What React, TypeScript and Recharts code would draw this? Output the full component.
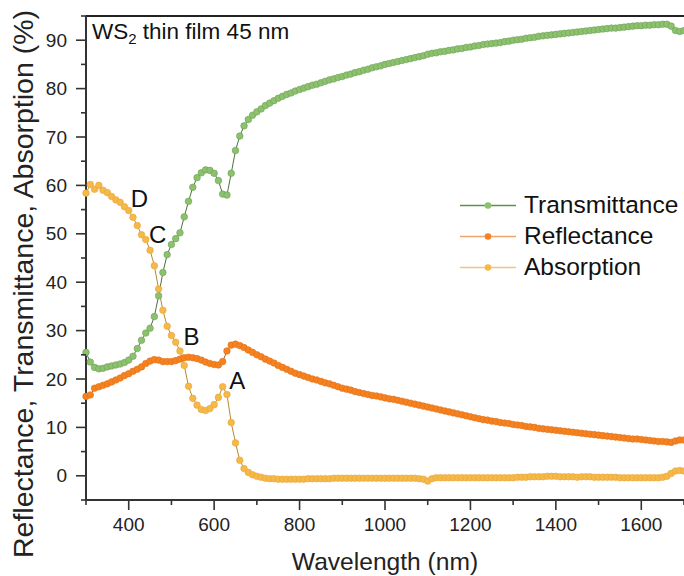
import { LineChart, Line, XAxis, YAxis, ReferenceLine, ReferenceDot, Legend } from "recharts"

const FONT = '"Liberation Sans", Arial, Helvetica, sans-serif'

// wavelength grid (nm)
const wavelengths = [
  300, 310, 320, 330, 340, 350, 360, 370, 380, 390,
  400, 410, 420, 430, 440, 450, 460, 470, 480, 490,
  500, 510, 520, 530, 540, 550, 560, 570, 580, 590,
  600, 610, 620, 630, 640, 650, 660, 670, 680, 690,
  700, 710, 720, 730, 740, 750, 760, 770, 780, 790,
  800, 810, 820, 830, 840, 850, 860, 870, 880, 890,
  900, 910, 920, 930, 940, 950, 960, 970, 980, 990,
  1000, 1010, 1020, 1030, 1040, 1050, 1060, 1070, 1080, 1090,
  1100, 1110, 1120, 1130, 1140, 1150, 1160, 1170, 1180, 1190,
  1200, 1210, 1220, 1230, 1240, 1250, 1260, 1270, 1280, 1290,
  1300, 1310, 1320, 1330, 1340, 1350, 1360, 1370, 1380, 1390,
  1400, 1410, 1420, 1430, 1440, 1450, 1460, 1470, 1480, 1490,
  1500, 1510, 1520, 1530, 1540, 1550, 1560, 1570, 1580, 1590,
  1600, 1610, 1620, 1630, 1640, 1650, 1660, 1670, 1680, 1690,
  1700,
]

const transmittance = [
  25.5, 23.5, 22.4, 22.1, 22.2, 22.5, 22.7, 22.9, 23.1, 23.4,
  23.9, 24.7, 26.3, 28.0, 29.5, 30.5, 32.9, 37.2, 42.0, 45.7,
  47.8, 49.0, 50.2, 53.5, 56.7, 59.6, 61.6, 62.6, 63.2, 63.1,
  62.5, 61.0, 58.2, 58.0, 62.5, 67.2, 70.2, 72.3, 73.6, 74.5,
  75.2, 75.8, 76.5, 77.0, 77.5, 78.0, 78.4, 78.8, 79.1, 79.5,
  79.8, 80.1, 80.4, 80.7, 80.9, 81.2, 81.5, 81.8, 82.0, 82.3,
  82.5, 82.8, 83.0, 83.3, 83.5, 83.8, 84.0, 84.3, 84.5, 84.7,
  85.0, 85.2, 85.4, 85.6, 85.8, 86.0, 86.2, 86.4, 86.6, 86.8,
  87.1, 87.3, 87.4, 87.6, 87.7, 87.9, 88.0, 88.2, 88.3, 88.5,
  88.6, 88.8, 88.9, 89.1, 89.2, 89.3, 89.4, 89.5, 89.7, 89.8,
  90.0, 90.1, 90.2, 90.4, 90.5, 90.6, 90.8, 90.9, 91.0, 91.1,
  91.2, 91.3, 91.4, 91.5, 91.6, 91.7, 91.8, 91.9, 92.0, 92.1,
  92.2, 92.3, 92.4, 92.5, 92.5, 92.6, 92.7, 92.8, 92.9, 93.0,
  93.0, 93.1, 93.1, 93.2, 93.2, 93.3, 93.3, 92.9, 92.0, 91.8,
  92.0,
]

const reflectance = [
  16.4, 16.7, 18.1, 18.4, 18.7, 19.0, 19.4, 19.8, 20.2, 20.7,
  21.1, 21.6, 22.0, 22.5, 23.2, 23.7, 24.0, 23.9, 23.6, 23.6,
  23.6, 23.8, 24.1, 24.4, 24.5, 24.4, 24.2, 23.9, 23.5, 23.2,
  23.0, 22.9, 23.6, 25.8, 27.0, 27.2, 26.9, 26.5, 26.0, 25.5,
  25.0, 24.6, 24.1, 23.7, 23.3, 22.8, 22.4, 22.0, 21.6, 21.2,
  20.9, 20.6, 20.3, 20.0, 19.8, 19.5, 19.2, 19.0, 18.7, 18.4,
  18.1, 17.9, 17.7, 17.4, 17.2, 17.0, 16.8, 16.6, 16.5, 16.3,
  16.1, 15.9, 15.8, 15.6, 15.4, 15.2, 15.0, 14.8, 14.6, 14.4,
  14.2, 14.0, 13.8, 13.6, 13.4, 13.2, 13.0, 12.8, 12.6, 12.4,
  12.2, 12.0, 11.8, 11.6, 11.5, 11.3, 11.2, 11.0, 10.9, 10.8,
  10.6, 10.5, 10.4, 10.2, 10.1, 10.0, 9.8, 9.7, 9.6, 9.5,
  9.4, 9.3, 9.2, 9.1, 9.0, 8.9, 8.8, 8.7, 8.6, 8.5,
  8.4, 8.3, 8.2, 8.1, 8.0, 7.9, 7.8, 7.7, 7.6, 7.6,
  7.5, 7.4, 7.3, 7.2, 7.1, 7.1, 7.0, 6.9, 7.2, 7.4,
  7.4,
]

const absorption = [
  58.4, 60.2, 59.2, 60.0, 59.0, 58.5, 57.7, 57.0, 56.5, 55.6,
  54.8, 53.4, 51.7, 49.8, 48.8, 46.6, 43.4, 38.6, 34.2, 30.9,
  29.0, 27.6, 25.8, 22.8, 18.5, 16.0, 14.6, 13.7, 13.5, 13.9,
  14.7, 16.2, 18.4, 16.8, 11.0, 6.8, 3.2, 1.5, 0.7, 0.2,
  -0.1, -0.3, -0.5, -0.6, -0.6, -0.7, -0.7, -0.7, -0.7, -0.7,
  -0.7, -0.7, -0.6, -0.6, -0.6, -0.6, -0.6, -0.6, -0.5, -0.5,
  -0.5, -0.5, -0.5, -0.5, -0.5, -0.5, -0.5, -0.5, -0.5, -0.5,
  -0.5, -0.5, -0.5, -0.5, -0.5, -0.5, -0.5, -0.5, -0.6, -0.7,
  -1.1, -0.6, -0.4, -0.4, -0.4, -0.4, -0.4, -0.4, -0.4, -0.4,
  -0.4, -0.4, -0.4, -0.4, -0.4, -0.4, -0.4, -0.4, -0.4, -0.4,
  -0.4, -0.3, -0.3, -0.3, -0.2, -0.2, -0.2, -0.2, -0.1, -0.1,
  -0.1, -0.2, -0.2, -0.2, -0.2, -0.3, -0.2, -0.2, -0.2, -0.3,
  -0.3, -0.3, -0.3, -0.3, -0.3, -0.4, -0.4, -0.4, -0.4, -0.4,
  -0.4, -0.4, -0.4, -0.4, -0.4, -0.3, -0.1, 0.5, 1.0, 1.1,
  1.0,
]

const xTicks = [300, 400, 500, 600, 700, 800, 900, 1000, 1100, 1200, 1300, 1400, 1500, 1600, 1700]
const yTicks = [-5, 0, 5, 10, 15, 20, 25, 30, 35, 40, 45, 50, 55, 60, 65, 70, 75, 80, 85, 90, 95]

// exciton peak labels
const peakNames = ["A", "B", "C", "D"]
const peakWl = [654, 547, 468, 425]
const peakVal = [19.7, 28.8, 49.8, 57.4]

const series = [
  { key: "T", name: "Transmittance", dot: "#8cc26e", dotEdge: "#6f9f55", line: "#4d7338", legendLine: "#5f8f4a" },
  { key: "R", name: "Reflectance", dot: "#f5821f", dotEdge: "#e0701a", line: "#b85a18", legendLine: "#efa46c" },
  { key: "A", name: "Absorption", dot: "#f6b847", dotEdge: "#e5a43a", line: "#b88a2e", legendLine: "#ecc688" },
]

const data = wavelengths.map((wl, i) => ({
  wl,
  T: transmittance[i],
  R: reflectance[i],
  A: absorption[i],
}))

const TICK_SIZE = 10
const X_TICK_MARGIN = 8
const Y_TICK_MARGIN = 9

const XTick = (props: any) => {
  const { x, y, payload } = props
  const v = payload.value
  const major = (v - 400) % 200 === 0
  const axisY = y - TICK_SIZE - X_TICK_MARGIN
  return (
    <g>
      <line x1={x} x2={x} y1={axisY} y2={axisY + (major ? 10 : 5)} stroke="#333" strokeWidth={1.6} />
      {major && (
        <text x={x} y={y} dy="0.71em" textAnchor="middle" fontSize={19} fill="#222" fontFamily={FONT}>
          {v}
        </text>
      )}
    </g>
  )
}

const YTick = (props: any) => {
  const { x, y, payload } = props
  const v = payload.value
  const major = v % 10 === 0
  const axisX = x + TICK_SIZE + Y_TICK_MARGIN
  return (
    <g>
      <line x1={axisX} x2={axisX - (major ? 10 : 5)} y1={y} y2={y} stroke="#333" strokeWidth={1.6} />
      {major && (
        <text x={x} y={y} dy="0.35em" textAnchor="end" fontSize={19} fill="#222" fontFamily={FONT}>
          {v}
        </text>
      )}
    </g>
  )
}

const XTitle = (props: any) => {
  const vb = props.viewBox || { x: 86, y: 500, width: 598, height: 76 }
  return (
    <text x={vb.x + vb.width / 2} y={vb.y + 70} textAnchor="middle" fontSize={24.6} fill="#222" fontFamily={FONT}>
      Wavelength (nm)
    </text>
  )
}

const YTitle = (props: any) => {
  const vb = props.viewBox || { x: 0, y: 16, width: 86, height: 484 }
  return (
    <text
      transform={`translate(${vb.x + 33}, ${vb.y + 268}) rotate(-90)`}
      textAnchor="middle"
      fontSize={28.5}
      fill="#222"
      fontFamily={FONT}
    >
      Reflectance, Transmittance, Absorption (%)
    </text>
  )
}

const renderLegend = () => (
  <div style={{ fontFamily: FONT }}>
    {series.map((s) => (
      <div key={s.key} style={{ display: "flex", alignItems: "center", height: 31 }}>
        <svg width={56} height={31}>
          <line x1={0} x2={56} y1={15.5} y2={15.5} stroke={s.legendLine} strokeWidth={1.5} />
          <circle cx={28} cy={15.5} r={3.3} fill={s.dot} />
        </svg>
        <span style={{ marginLeft: 8, fontSize: 24.5, color: "#111", whiteSpace: "nowrap" }}>{s.name}</span>
      </div>
    ))}
  </div>
)

export default function App() {
  return (
    <div style={{ position: "absolute", left: 0, top: 0, width: 684, height: 576, overflow: "hidden", background: "#fff" }}>
      <LineChart width={684} height={576} data={data} margin={{ top: 16, right: 0, bottom: 0, left: 0 }}>
        <XAxis
          dataKey="wl"
          type="number"
          domain={[300, 1700]}
          ticks={xTicks}
          interval={0}
          height={76}
          tickSize={TICK_SIZE}
          tickMargin={X_TICK_MARGIN}
          tickLine={false}
          tick={<XTick />}
          axisLine={{ stroke: "#333", strokeWidth: 2 }}
          label={<XTitle />}
        />
        <YAxis
          type="number"
          domain={[-5, 95]}
          ticks={yTicks}
          interval={0}
          width={86}
          tickSize={TICK_SIZE}
          tickMargin={Y_TICK_MARGIN}
          tickLine={false}
          tick={<YTick />}
          axisLine={{ stroke: "#333", strokeWidth: 2 }}
          label={<YTitle />}
        />
        <ReferenceLine y={95} stroke="#222" strokeWidth={2} />
        {series.map((s) => (
          <Line
            key={s.key}
            dataKey={s.key}
            name={s.name}
            type="linear"
            stroke={s.line}
            strokeWidth={1}
            dot={{ r: 3.3, fill: s.dot, stroke: s.dotEdge, strokeWidth: 0.6 }}
            activeDot={false}
            isAnimationActive={false}
          />
        ))}
        {peakNames.map((n, i) => (
          <ReferenceDot
            key={n}
            x={peakWl[i]}
            y={peakVal[i]}
            r={0}
            stroke="none"
            label={{ value: n, position: "center", fontSize: 24, fill: "#111", fontFamily: FONT }}
          />
        ))}
        <Legend
          verticalAlign="middle"
          layout="horizontal"
          content={renderLegend}
          wrapperStyle={{ left: 460, top: 189.5, width: 224 }}
        />
      </LineChart>
      <svg width={684} height={576} style={{ position: "absolute", left: 0, top: 0, pointerEvents: "none" }}>
        <text x={92} y={39} fontSize={22.5} fill="#111" fontFamily={FONT}>
          WS
          <tspan dy={5} fontSize={15}>2</tspan>
          <tspan dy={-5}> thin film 45 nm</tspan>
        </text>
      </svg>
    </div>
  )
}
